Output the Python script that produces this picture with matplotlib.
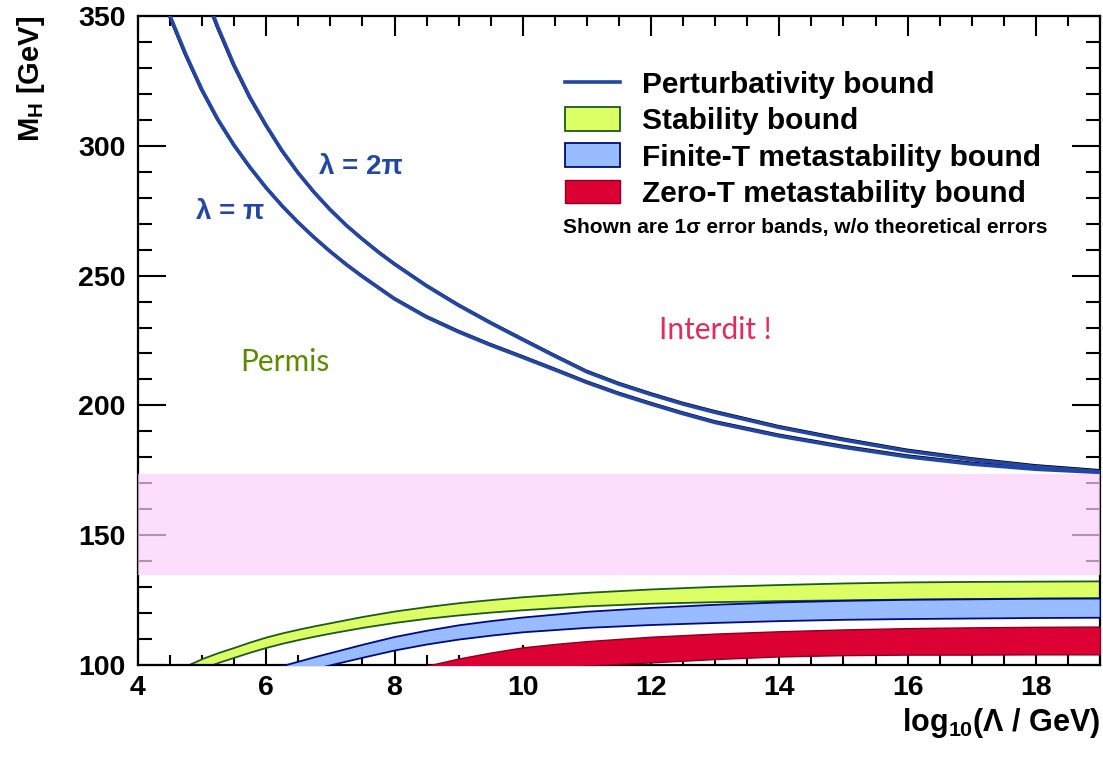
import numpy as np
import matplotlib.pyplot as plt
import matplotlib.patheffects as pe
from matplotlib.lines import Line2D
from matplotlib.patches import Patch
from matplotlib.ticker import MultipleLocator

plt.rcParams['font.family'] = ['Liberation Sans', 'DejaVu Sans']
plt.rcParams['font.weight'] = 'bold'
plt.rcParams['mathtext.fontset'] = 'custom'
plt.rcParams['mathtext.rm'] = 'Liberation Sans:bold'
plt.rcParams['mathtext.it'] = 'Liberation Sans:bold'
plt.rcParams['mathtext.bf'] = 'Liberation Sans:bold'

# bornes de perturbativité (lambda = pi et lambda = 2 pi)
x_pi = [4.4, 4.5, 4.75, 5.0, 5.25, 5.5, 5.75, 6.0, 6.25, 6.5, 6.75, 7.0,
        7.25, 7.5, 7.75, 8.0, 8.5, 9.0, 9.5, 10.0, 10.5, 11.0, 11.5, 12.0,
        12.5, 13.0, 14.0, 15.0, 16.0, 17.0, 18.0, 19.0]
mh_pi = [357, 350, 335, 321.5, 310, 300.2, 291.6, 283.8, 276.8, 270.4, 264.6,
         259.2, 254.2, 249.6, 245.3, 241.0, 234.0, 228.3, 223.2, 218.5, 213.7,
         208.8, 204.4, 200.5, 196.8, 193.4, 188.2, 183.9, 180.2, 177.4, 175.4,
         174.2]

x_2pi = [5.1, 5.25, 5.5, 5.75, 6.0, 6.25, 6.5, 6.75, 7.0, 7.25, 7.5, 7.75,
         8.0, 8.5, 9.0, 9.5, 10.0, 10.5, 11.0, 11.5, 12.0, 12.5, 13.0, 14.0,
         15.0, 16.0, 17.0, 18.0, 19.0]
mh_2pi = [355, 345.5, 331, 318.5, 307.8, 298, 289.5, 282, 275.3, 269.3, 264,
          259, 254.4, 246, 238.5, 231.7, 225.3, 219.0, 212.9, 208.2, 204.2,
          200.5, 197.3, 191.5, 186.7, 182.4, 179.1, 176.4, 174.5]

# bandes à 1 sigma
x_band = [4.5, 4.75, 5.0, 5.25, 5.5, 5.75, 6.0, 6.25, 6.5, 6.75, 7.0, 7.5,
          8.0, 8.5, 9.0, 9.5, 10.0, 11.0, 12.0, 13.0, 14.0, 15.0, 16.0, 17.0,
          18.0, 19.0]
stab_hi = [96.6, 99.7, 102.5, 104.8, 106.8, 108.9, 110.8, 112.4, 113.8, 115.1,
           116.3, 118.7, 120.8, 122.5, 124.0, 125.2, 126.3, 128.0, 129.3, 130.3,
           131.0, 131.6, 132.0, 132.2, 132.3, 132.4]
stab_lo = [93.5, 96.2, 98.7, 101.0, 103.0, 105.0, 106.8, 108.4, 109.8, 111.1,
           112.3, 114.5, 116.4, 118.0, 119.3, 120.4, 121.3, 122.8, 123.8, 124.4,
           124.8, 125.1, 125.4, 125.6, 125.8, 125.9]
fin_hi = [85.0, 87.6, 90.0, 92.3, 94.5, 96.3, 98.0, 99.8, 101.5, 103.2,
          104.8, 108.0, 111.0, 113.4, 115.5, 117.1, 118.5, 120.7, 122.2, 123.4,
          124.3, 124.9, 125.3, 125.5, 125.7, 125.8]
fin_lo = [80.0, 82.6, 85.0, 87.3, 89.5, 91.5, 93.5, 95.3, 97.0, 98.6,
          100.1, 103.0, 105.8, 108.1, 110.0, 111.5, 112.8, 114.5, 115.6, 116.4,
          117.1, 117.6, 117.9, 118.1, 118.3, 118.4]

x_zero = [8.0, 8.5, 9.0, 9.5, 10.0, 10.5, 11.0, 12.0, 13.0, 14.0, 15.0, 16.0,
          17.0, 18.0, 19.0]
zero_hi = [96.6, 99.7, 102.5, 104.8, 106.8, 108.1, 109.2, 110.9, 112.1, 113.0,
           113.7, 114.2, 114.5, 114.7, 114.8]
zero_lo = [93.0, 94.3, 95.5, 96.7, 97.8, 98.8, 99.8, 101.0, 102.3, 103.3,
           103.8, 104.0, 104.0, 104.1, 104.1]

# zone horizontale rose
pink_lo, pink_hi = 134.7, 173.6

blue = '#2346a6'

fig = plt.figure(figsize=(11.03, 7.58), dpi=100)
ax = fig.add_axes([138 / 1103, 93 / 758, 962 / 1103, 649 / 758])

ax.fill_between(x_band, stab_lo, stab_hi, facecolor='#ddff66',
                edgecolor='#1d5a1d', linewidth=1.3, zorder=2)
ax.fill_between(x_band, fin_lo, fin_hi, facecolor='#99bbff',
                edgecolor='#000a80', linewidth=1.3, zorder=3)
ax.fill_between(x_zero, zero_lo, zero_hi, facecolor='#dd0033',
                edgecolor='#8a0020', linewidth=1.0, zorder=4)

edge = [pe.Stroke(linewidth=2.2, foreground='black', offset=(-0.8, 0.8)),
        pe.Normal()]
ax.plot(x_pi, mh_pi, color=blue, lw=2.6, zorder=5, path_effects=edge)
ax.plot(x_2pi, mh_2pi, color=blue, lw=2.6, zorder=5, path_effects=edge)

ax.axhspan(pink_lo, pink_hi, facecolor='#fcd0fc', alpha=0.7,
           edgecolor='none', zorder=10)

ax.set_xlim(4, 19)
ax.set_ylim(100, 350)
ax.xaxis.set_major_locator(MultipleLocator(2))
ax.xaxis.set_minor_locator(MultipleLocator(0.5))
ax.yaxis.set_major_locator(MultipleLocator(50))
ax.yaxis.set_minor_locator(MultipleLocator(10))
ax.tick_params(which='both', direction='in', top=True, right=True,
               width=1.5, labelsize=20.5)
ax.tick_params(axis='x', which='major', length=14.4, pad=7)
ax.tick_params(axis='x', which='minor', length=7.2)
ax.tick_params(axis='y', which='major', length=20, pad=9)
ax.tick_params(axis='y', which='minor', length=10)
for lab in ax.get_xticklabels() + ax.get_yticklabels():
    lab.set_fontweight('bold')
for s in ax.spines.values():
    s.set_linewidth(1.6)

ax.set_xlabel(r'log$_{10}$($\Lambda$ / GeV)', fontsize=22, fontweight='bold',
              loc='right')
ax.xaxis.set_label_coords(1.0, -0.063)
ax.set_ylabel(r'M$_{\mathrm{H}}$ [GeV]', fontsize=21, fontweight='bold',
              loc='top')
ax.yaxis.set_label_coords(-0.095, 1.0)

ax.text(5.43, 274.5, 'λ = π', color=blue, fontsize=20, ha='center',
        va='center')
ax.text(7.48, 291.8, 'λ = 2π', color=blue, fontsize=20, ha='center',
        va='center')
ax.text(6.29, 216.7, 'Permis', color='#5b8c00', fontsize=21.5, ha='center',
        va='center', family='Lato', fontweight='normal')
ax.text(13.0, 229, 'Interdit !', color='#e6285a', fontsize=21.5, ha='center',
        va='center', family='Lato', fontweight='normal')

handles = [
    Line2D([], [], color=blue, lw=2.6),
    Patch(facecolor='#ddff66', edgecolor='#1d5a1d', linewidth=1.3),
    Patch(facecolor='#99bbff', edgecolor='#000a80', linewidth=1.3),
    Patch(facecolor='#dd0033', edgecolor='#8a0020', linewidth=1.0),
]
labels = ['Perturbativity bound', 'Stability bound',
          'Finite-T metastability bound', 'Zero-T metastability bound']
ax.legend(handles, labels, loc='upper left',
          bbox_to_anchor=(565 / 1103, 1 - 71 / 758),
          bbox_transform=fig.transFigure, frameon=False, borderpad=0,
          borderaxespad=0, prop={'weight': 'bold', 'size': 21.5},
          handlelength=1.85, handleheight=0.84, handletextpad=0.72,
          labelspacing=0.27)
fig.text(563 / 1103, 1 - 228 / 758,
         'Shown are 1σ error bands, w/o theoretical errors',
         fontsize=15, fontweight='bold', ha='left', va='center')

fig.savefig('out.png', dpi=100)
